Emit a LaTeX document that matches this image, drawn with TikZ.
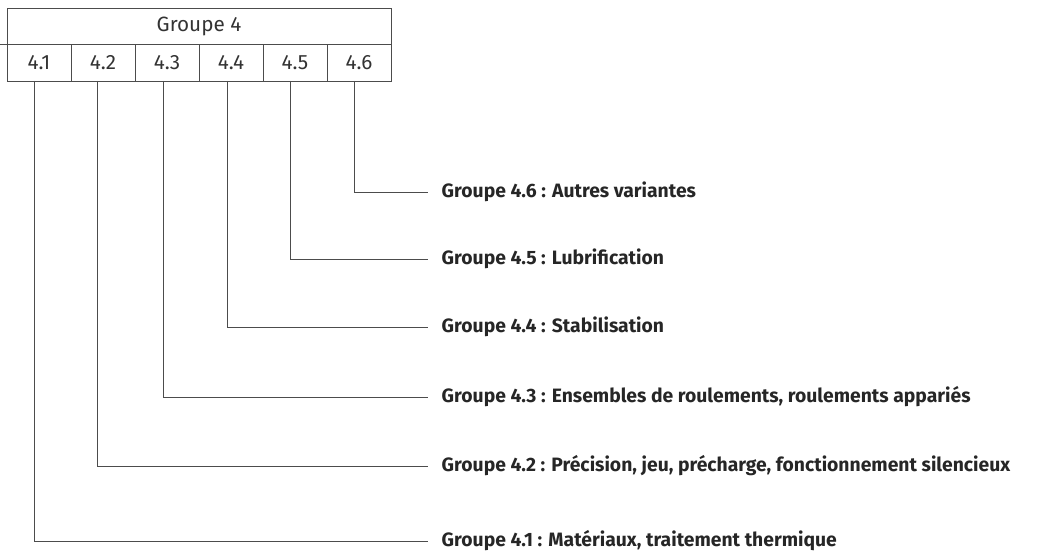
\documentclass[tikz,border=0pt]{standalone}
\usepackage{fontspec}
\setmainfont{Fira Sans}
\usepackage{tikz}
\usetikzlibrary{positioning}

\begin{document}
\begin{tikzpicture}[%
x=0.75pt, y=-0.75pt, line width=0.6pt, draw=black!70,
cell/.style={draw, shape=rectangle, minimum width=48pt, minimum height=27.75pt, inner sep=0pt, outer sep=0pt, font=\fontsize{15.5}{17}\selectfont\color{black!80}},
head/.style={draw, shape=rectangle, minimum width=288pt, minimum height=27pt, inner sep=0pt, outer sep=0pt, font=\fontsize{15.5}{17}\selectfont\color{black!80}},
group/.style={anchor=west, inner xsep=10pt, inner ysep=0pt, font=\fontsize{14.5}{16}\selectfont\bfseries\color{black!85}}
]
\useasboundingbox (0,0) rectangle (1042,552);
\node[head] (g4) at (199,26) {Groupe 4};
\node[cell] (c1) at (39,62.5) {4.1};
\node[cell,right=0pt of c1] (c2) {4.2};
\node[cell,right=0pt of c2] (c3) {4.3};
\node[cell,right=0pt of c3] (c4) {4.4};
\node[cell,right=0pt of c4] (c5) {4.5};
\node[cell,right=0pt of c5] (c6) {4.6};
\draw (g4.south west) -- ++(-7,0);
\node[group] (g6) at (428,192) {Groupe 4.6 : Autres variantes};
\node[group] (g5) at (428,259) {Groupe 4.5 : Lubrification};
\node[group] (g44) at (428,327) {Groupe 4.4 : Stabilisation};
\node[group] (g3) at (428,397) {Groupe 4.3 : Ensembles de roulements, roulements appariés};
\node[group] (g2) at (428,466) {Groupe 4.2 : Précision, jeu, précharge, fonctionnement silencieux};
\node[group] (g1) at (428,541) {Groupe 4.1 : Matériaux, traitement thermique};
\draw ([xshift=-3.5pt]c6.south) |- (g6.west);
\draw ([xshift=-3.5pt]c5.south) |- (g5.west);
\draw ([xshift=-2.5pt]c4.south) |- (g44.west);
\draw ([xshift=-3pt]c3.south) |- (g3.west);
\draw ([xshift=-4.5pt]c2.south) |- (g2.west);
\draw ([xshift=-3.75pt]c1.south) |- (g1.west);
\end{tikzpicture}
\end{document}
